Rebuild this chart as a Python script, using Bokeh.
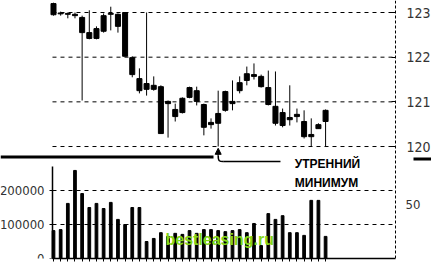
from bokeh.plotting import figure
from bokeh.models import (Range1d, LinearAxis, FixedTicker, Label,
                          BoxAnnotation, Arrow, NormalHead)
from bokeh.embed import file_html
from bokeh.resources import INLINE

# ---- data ----
opens = [123.20, 122.99, 122.98, 122.96, 122.89, 122.55, 122.64, 122.93, 122.98, 122.96,
         123.00, 121.99, 121.52, 121.41, 121.37, 121.34, 121.01, 120.83, 120.76, 121.10,
         121.25, 120.94, 120.54, 120.74, 120.81, 121.01, 121.43, 121.63, 121.61, 121.57,
         121.32, 120.90, 120.76, 120.65, 120.72, 120.56, 120.27, 120.49, 120.56]
closes = [122.95, 122.97, 122.96, 122.93, 122.55, 122.42, 122.42, 122.58, 122.96, 122.69,
          122.02, 121.61, 121.25, 121.28, 121.28, 120.29, 120.96, 120.67, 121.08, 121.32,
          121.01, 120.43, 120.49, 120.52, 121.23, 120.96, 121.25, 121.48, 121.57, 121.34,
          120.94, 120.52, 120.47, 120.60, 120.67, 120.22, 120.22, 120.40, 120.81]
highs = [123.22, 123.02, 123.00, 123.00, 122.93, 123.05, 122.69, 122.98, 123.13, 122.98,
         123.00, 122.02, 121.75, 123.00, 121.57, 121.37, 121.03, 120.96, 121.10, 121.34,
         121.34, 120.96, 120.63, 121.25, 121.25, 121.48, 121.57, 121.79, 121.86, 121.61,
         121.70, 121.68, 120.85, 121.37, 120.85, 120.81, 120.63, 120.52, 120.83]
lows = [122.93, 122.93, 122.87, 122.87, 121.03, 122.40, 122.40, 122.55, 122.60, 122.55,
        122.02, 121.55, 121.19, 121.14, 121.25, 120.29, 120.20, 120.56, 120.74, 121.08,
        120.92, 120.25, 120.40, 120.00, 120.78, 120.81, 121.19, 121.37, 121.50, 121.32,
        120.92, 120.47, 120.43, 120.47, 120.54, 120.18, 120.00, 120.40, 120.00]
volumes = [82000, 85000, 162000, 259000, 191000, 150000, 162000, 147000, 165000, 115000,
           100000, 150000, 150000, 50000, 59000, 76000, 65000, 74000, 71000, 82000,
           74000, 85000, 85000, 82000, 79000, 82000, 85000, 76000, 103000, 38000,
           132000, 115000, 126000, 76000, 76000, 68000, 171000, 171000, 65000]
price_ticks = [120, 121, 122, 123]
volume_ticks = [0, 100000, 200000]
volume_tick_labels = ["0", "100000", "200000"]
volume_grid = [100000, 200000]
annotation_lines = ["УТРЕННИЙ", "МИНИМУМ"]
right_volume_label = "50"
watermark = "bestleasing.ru"

idx = list(range(len(opens)))
body_top = [max(o, c) for o, c in zip(opens, closes)]
body_bot = [min(o, c) for o, c in zip(opens, closes)]

narrow = "Liberation Sans Narrow, DejaVu Sans Condensed, Liberation Sans"

# panel edges (in index units) where the chart's axes sit
X0, X1 = -7.402, 52.793
LEFT_EDGE, RIGHT_EDGE = -0.14, 47.77

p = figure(frame_width=431, frame_height=258,
           x_range=Range1d(X0, X1), y_range=Range1d(117.493, 123.269),
           output_backend="svg", toolbar_location=None,
           y_axis_location=None, x_axis_location="below",
           min_border_left=0, min_border_right=0, min_border_top=0, min_border_bottom=10)
p.extra_y_ranges = {"vol": Range1d(0, 758824)}
p.outline_line_color = None
p.background_fill_color = "white"
p.border_fill_color = "white"
p.grid.visible = False

# grid lines (price panel and volume panel)
p.segment(x0=[LEFT_EDGE] * len(price_ticks), x1=[RIGHT_EDGE] * len(price_ticks),
          y0=price_ticks, y1=price_ticks,
          line_color="black", line_dash="4 4", line_width=1)
p.segment(x0=[LEFT_EDGE] * len(volume_grid), x1=[RIGHT_EDGE] * len(volume_grid),
          y0=volume_grid, y1=volume_grid, y_range_name="vol",
          line_color="black", line_dash="4 4", line_width=1)

# right price axis
ra = LinearAxis(ticker=FixedTicker(ticks=price_ticks), fixed_location=RIGHT_EDGE)
ra.axis_line_dash = "3 2"
ra.axis_line_color = "black"
ra.major_tick_in = 4
ra.major_tick_out = 0
ra.minor_tick_line_color = None
ra.major_label_standoff = 11
ra.major_label_text_font = narrow
ra.major_label_text_font_size = "14px"
ra.major_label_text_color = "#333333"
p.add_layout(ra, "right")

# bottom axis (ticks only)
ba = p.xaxis[0]
ba.ticker = FixedTicker(ticks=[], minor_ticks=idx)
ba.bounds = (LEFT_EDGE, RIGHT_EDGE)
ba.axis_line_width = 1.5
ba.major_tick_line_color = None
ba.minor_tick_in = 0
ba.minor_tick_out = 3
ba.minor_tick_line_color = "black"

# left volume axis
la = LinearAxis(y_range_name="vol", ticker=FixedTicker(ticks=volume_ticks),
                bounds=(0, 270000), fixed_location=LEFT_EDGE)
la.major_label_overrides = dict(zip(volume_ticks, volume_tick_labels))
la.axis_line_width = 1.5
la.major_tick_in = 3
la.major_tick_out = 3
la.minor_tick_line_color = None
la.major_label_standoff = 5
la.major_label_text_font = narrow
la.major_label_text_font_size = "13px"
la.major_label_text_color = "#333333"
p.add_layout(la, "left")

# candles
p.segment(x0=idx, y0=lows, x1=idx, y1=highs, line_color="black", line_width=1)
p.vbar(x=idx, width=0.7, top=body_top, bottom=body_bot,
       fill_color="black", line_color="black", line_width=1)

# volume
p.vbar(x=idx, width=0.38, top=volumes, bottom=0, y_range_name="vol",
       fill_color="black", line_color="black")

# separator line (scan)
p.add_layout(BoxAnnotation(left=0, right=213, top=155, bottom=158,
                           left_units="canvas", right_units="canvas",
                           top_units="canvas", bottom_units="canvas",
                           fill_color="black", fill_alpha=1, line_color=None))
p.add_layout(BoxAnnotation(left=413, right=431, top=157, bottom=160,
                           left_units="canvas", right_units="canvas",
                           top_units="canvas", bottom_units="canvas",
                           fill_color="black", fill_alpha=1, line_color=None))

# morning-low annotation
mi = lows.index(min(lows[:30]))
tip = lows[mi] - 0.04
shaft = lows[mi] - 0.20
lead_y = lows[mi] - 0.336
p.add_layout(Arrow(end=NormalHead(size=6, fill_color="black", line_color="black"),
                   x_start=mi, y_start=shaft, x_end=mi, y_end=tip,
                   line_color="black", line_width=1.5))
p.bezier(x0=[mi], y0=[shaft], x1=[mi + 0.7], y1=[lead_y],
         cx0=[mi], cy0=[lead_y], cx1=[mi + 0.2], cy1=[lead_y],
         line_color="black", line_width=1.5)
p.line(x=[mi + 0.7, mi + 8.7], y=[lead_y, lead_y], line_color="black", line_width=1.5)

p.add_layout(Label(x=mi + 10.7, y=lows[mi] - 0.224, text=annotation_lines[0],
                   text_baseline="top", text_font="Liberation Sans",
                   text_font_style="bold", text_font_size="12px", text_color="black"))
p.add_layout(Label(x=mi + 10.7, y=lows[mi] - 0.671, text=annotation_lines[1],
                   text_baseline="top", text_font="Liberation Sans",
                   text_font_style="bold", text_font_size="12px", text_color="black"))

p.add_layout(Label(x=405, y=204, x_units="canvas", y_units="canvas",
                   text=right_volume_label, text_baseline="middle",
                   text_font=narrow, text_font_size="13px", text_color="#333333"))

p.add_layout(Label(x=15.64, y=82353, y_range_name="vol", text=watermark,
                   text_baseline="top", text_font="Liberation Sans",
                   text_font_style="bold", text_font_size="16px", text_color="#84d616"))

open("out.html", "w").write(file_html(p, INLINE))
